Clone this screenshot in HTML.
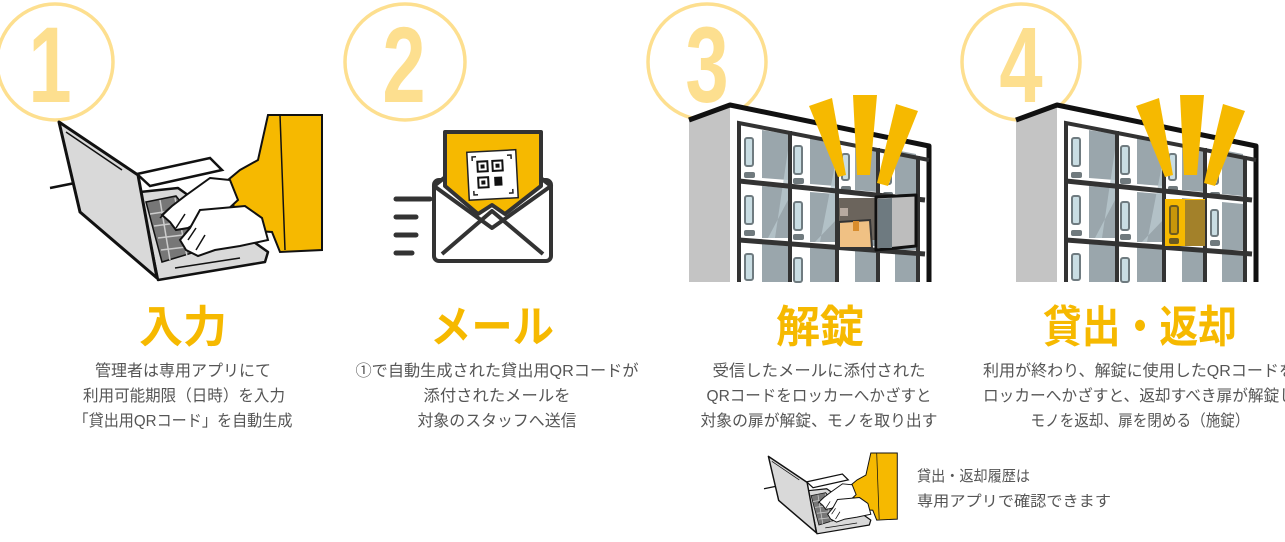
<!DOCTYPE html>
<html><head><meta charset="utf-8"><style>
html,body{margin:0;padding:0;background:#fff;}
svg{display:block;}
text{font-family:"Liberation Sans","Noto Sans CJK JP",sans-serif;}
.d{font-size:16px;fill:#555;}
.t{font-size:44px;font-weight:bold;fill:#f6b900;}
.n{font-size:108px;font-weight:bold;fill:#fddf8f;}
</style></head><body>
<svg width="1285" height="542" viewBox="0 0 1285 542" xmlns="http://www.w3.org/2000/svg">
<defs>
<g id="laptop">
  <line x1="50" y1="188" x2="75" y2="183" stroke="#111" stroke-width="2.5"/>
  <polygon points="137,174 210,158 222,170 150,186" fill="#fff" stroke="#111" stroke-width="2.5"/>
  <polygon points="140,192 178,188 268,252 265,262 158,280" fill="#d9d9d9" stroke="#111" stroke-width="2.5" stroke-linejoin="round"/>
  <polygon points="146,202 176,196 215,246 162,262" fill="#777" stroke="#111" stroke-width="1.5"/>
  <path d="M150,214 L190,208 M154,226 L200,220 M158,238 L208,232 M161,250 L212,244 M160,200 L170,260 M175,198 L187,256 M190,204 L200,252" stroke="#ccc" stroke-width="1.5"/>
  <polygon points="59,122 138,175 157,278 80,212" fill="#d9d9d9" stroke="#111" stroke-width="3" stroke-linejoin="round"/>
  <line x1="66" y1="132" x2="122" y2="170" stroke="#111" stroke-width="1.5"/>
  <line x1="175" y1="268" x2="240" y2="258" stroke="#111" stroke-width="1.5"/>
  <polygon points="268,115 322,115 322,250 280,252 272,232 240,230 232,200 222,185 240,170 258,160" fill="#f6b900" stroke="#111" stroke-width="2"/>
  <line x1="280" y1="115" x2="285" y2="250" stroke="#111" stroke-width="1.5"/>
  <path d="M210,178 L230,180 L238,200 L225,212 L205,218 L188,228 L176,230 L170,222 L162,215 L172,206 L185,196 Z" fill="#fff" stroke="#111" stroke-width="2"/>
  <path d="M200,210 L245,206 L262,218 L268,240 L240,246 L215,250 L198,256 L186,250 L180,240 L190,228 Z" fill="#fff" stroke="#111" stroke-width="2"/>
  <path d="M172,206 L160,218 M185,214 L176,228 M196,228 L188,240 M205,235 L196,250" stroke="#111" stroke-width="1.5"/>
</g>
<g id="locker">
  <polygon points="689,118 730,104 730,282 689,282" fill="#c4c4c4"/>
  <polygon points="730,104 929,146 929,282 730,282" fill="#fff"/>
  <polyline points="689,120 730,105 929,146 929,282" fill="none" stroke="#111" stroke-width="5" stroke-linejoin="round"/>
  <g fill="#9aa6ac">
    <polygon points="762,130 788,134 788,180 762,178"/>
    <polygon points="810,136 836,140 836,186 810,184"/>
    <polygon points="855,144 877,148 877,192 855,190"/>
    <polygon points="895,150 916,154 916,196 895,194"/>
    <polygon points="762,186 788,188 788,238 762,238"/>
    <polygon points="810,192 836,194 836,242 810,242"/>
    <polygon points="855,198 877,200 877,246 855,246"/>
    <polygon points="895,202 916,204 916,250 895,250"/>
    <polygon points="762,244 788,246 788,282 762,282"/>
    <polygon points="810,247 836,249 836,282 810,282"/>
    <polygon points="855,250 877,251 877,282 855,282"/>
    <polygon points="895,252 916,253 916,282 895,282"/>
  </g>
  <g fill="#b9c8ce" opacity="0.8">
    <polygon points="788,150 788,200 768,238 775,238"/>
    <polygon points="836,160 836,220 815,242 820,242"/>
  </g>
  <g fill="#c9dde3" stroke="#6f7b80" stroke-width="2">
    <rect x="745" y="138" width="8" height="28" rx="2"/>
    <rect x="794" y="146" width="8" height="28" rx="2"/>
    <rect x="842" y="154" width="7" height="26" rx="2"/>
    <rect x="884" y="160" width="7" height="24" rx="2"/>
    <rect x="745" y="196" width="8" height="28" rx="2"/>
    <rect x="794" y="202" width="8" height="28" rx="2"/>
    <rect x="884" y="210" width="7" height="26" rx="2"/>
    <rect x="745" y="254" width="8" height="26" rx="2"/>
    <rect x="794" y="258" width="8" height="24" rx="2"/>
  </g>
  <g fill="#707a7e">
    <rect x="744" y="172" width="11" height="6" rx="2"/>
    <rect x="793" y="178" width="11" height="6" rx="2"/>
    <rect x="841" y="186" width="10" height="6" rx="2"/>
    <rect x="883" y="192" width="10" height="6" rx="2"/>
    <rect x="744" y="230" width="11" height="6" rx="2"/>
    <rect x="793" y="234" width="11" height="6" rx="2"/>
    <rect x="883" y="240" width="10" height="6" rx="2"/>
  </g>
  <polyline points="929,160 739,123 739,282" fill="none" stroke="#333" stroke-width="4"/>
  <line x1="739" y1="181" x2="925" y2="200" stroke="#333" stroke-width="5"/>
  <line x1="739" y1="240" x2="925" y2="254" stroke="#333" stroke-width="5"/>
  <g stroke="#333" stroke-width="4">
    <line x1="790" y1="131" x2="790" y2="282"/>
    <line x1="837" y1="140" x2="837" y2="282"/>
    <line x1="878" y1="148" x2="878" y2="282"/>
    <line x1="918" y1="156" x2="918" y2="282"/>
  </g>
</g>
<g id="rays">
  <polygon points="809,106 832,98 846,175 838,177" fill="#f6b900"/>
  <polygon points="853,95 877,95 870,175 857,175" fill="#f6b900"/>
  <polygon points="896,104 918,111 888,186 877,183" fill="#f6b900"/>
</g>
</defs>

<!-- circles and numbers -->
<g fill="none" stroke="#fddf8f" stroke-width="3.5">
  <ellipse cx="55" cy="62" rx="58" ry="58"/>
  <ellipse cx="405" cy="62" rx="60" ry="58"/>
  <ellipse cx="707" cy="62" rx="59" ry="58"/>
  <ellipse cx="1021" cy="62" rx="59" ry="58"/>
</g>
<g class="n" text-anchor="middle">
  <text transform="translate(50,102) scale(0.72,1)" class="n">1</text>
  <text transform="translate(404,102) scale(0.72,1)" class="n">2</text>
  <text transform="translate(707,102) scale(0.72,1)" class="n">3</text>
  <text transform="translate(1021,102) scale(0.72,1)" class="n">4</text>
</g>

<!-- laptop 1 -->
<use href="#laptop"/>

<!-- envelope -->
<g stroke="#333" stroke-linecap="round" stroke-width="5">
  <line x1="396" y1="199" x2="430" y2="199"/>
  <line x1="396" y1="217" x2="416" y2="217"/>
  <line x1="396" y1="235" x2="416" y2="235"/>
  <line x1="396" y1="253" x2="412" y2="253"/>
</g>
<rect x="434" y="180" width="117" height="81" rx="5" fill="#fff" stroke="#333" stroke-width="4"/>
<polygon points="434,186 492,140 551,186 492,228" fill="#fff" stroke="#333" stroke-width="4" stroke-linejoin="round"/>
<polygon points="445,132 541,132 541,186 505,214 492,205 478,214 445,186" fill="#f6b900" stroke="#333" stroke-width="4" stroke-linejoin="round"/>
<polyline points="442,254 492,211 543,254" fill="none" stroke="#333" stroke-width="4" stroke-linejoin="round"/>
<g transform="rotate(-3 492 175)">
  <rect x="468" y="151" width="49" height="48" fill="#fff" stroke="#222" stroke-width="1.5"/>
  <path d="M473,160 v-4 h4 M508,156 h4 v4 M473,190 v4 h4 M512,190 v4 h-4" fill="none" stroke="#222" stroke-width="1.5"/>
  <rect x="478" y="161" width="10" height="10" fill="none" stroke="#111" stroke-width="2"/>
  <rect x="493" y="161" width="10" height="10" fill="none" stroke="#111" stroke-width="2"/>
  <rect x="478" y="177" width="10" height="10" fill="none" stroke="#111" stroke-width="2"/>
  <rect x="481" y="164" width="4" height="4" fill="#111"/>
  <rect x="496" y="164" width="4" height="4" fill="#111"/>
  <rect x="481" y="180" width="4" height="4" fill="#111"/>
  <rect x="494" y="177" width="8" height="9" fill="#111"/>
</g>

<!-- locker 3 -->
<use href="#locker"/>
<rect x="839" y="198" width="37" height="42" fill="#6b645c"/>
<rect x="840" y="208" width="8" height="8" fill="#b7aaa0"/>
<polygon points="839,222 870,220 872,248 839,248" fill="#f0c184" stroke="#333" stroke-width="2"/>
<rect x="853" y="221" width="6" height="10" fill="#d88c2c"/>
<polygon points="876,197 916,195 916,246 876,250" fill="#bdbdbd" stroke="#111" stroke-width="3" stroke-linejoin="round"/>
<polygon points="878,199 892,198 892,248 878,248" fill="#6e7a80"/>
<use href="#rays"/>

<!-- locker 4 -->
<use href="#locker" transform="translate(327,0)"/>
<rect x="1165" y="199" width="40" height="47" fill="#f6b900"/>
<rect x="1185" y="200" width="20" height="46" fill="#a3812a"/>
<rect x="1170" y="206" width="8" height="28" rx="2" fill="#c8960a" stroke="#6b5a20" stroke-width="2"/>
<rect x="1169" y="238" width="10" height="6" rx="2" fill="#6b5a20"/>
<use href="#rays" transform="translate(327,0)"/>

<!-- titles -->
<g class="t" text-anchor="middle">
  <text x="183" y="342" textLength="88" lengthAdjust="spacingAndGlyphs" class="t">入力</text>
  <text x="492" y="342" textLength="124" lengthAdjust="spacingAndGlyphs" class="t">メール</text>
  <text x="820" y="342" textLength="88" lengthAdjust="spacingAndGlyphs" class="t">解錠</text>
  <text x="1140" y="342" textLength="194" lengthAdjust="spacingAndGlyphs" class="t">貸出・返却</text>
</g>

<!-- descriptions -->
<g class="d" text-anchor="middle">
  <text x="183" y="376" textLength="176" lengthAdjust="spacingAndGlyphs" class="d">管理者は専用アプリにて</text>
  <text x="184" y="401" textLength="202" lengthAdjust="spacingAndGlyphs" class="d">利用可能期限（日時）を入力</text>
  <text x="183" y="426" textLength="219" lengthAdjust="spacingAndGlyphs" class="d">「貸出用QRコード」を自動生成</text>

  <text x="497" y="376" textLength="283" lengthAdjust="spacingAndGlyphs" class="d">①で自動生成された貸出用QRコードが</text>
  <text x="497" y="401" textLength="147" lengthAdjust="spacingAndGlyphs" class="d">添付されたメールを</text>
  <text x="497" y="426" textLength="159" lengthAdjust="spacingAndGlyphs" class="d">対象のスタッフへ送信</text>

  <text x="819" y="376" textLength="213" lengthAdjust="spacingAndGlyphs" class="d">受信したメールに添付された</text>
  <text x="819" y="401" textLength="225" lengthAdjust="spacingAndGlyphs" class="d">QRコードをロッカーへかざすと</text>
  <text x="819" y="426" textLength="237" lengthAdjust="spacingAndGlyphs" class="d">対象の扉が解錠、モノを取り出す</text>

  <text x="1140" y="426" textLength="219" lengthAdjust="spacingAndGlyphs" class="d">モノを返却、扉を閉める（施錠）</text>
</g>
<text x="983" y="376" textLength="312" lengthAdjust="spacingAndGlyphs" class="d">利用が終わり、解錠に使用したQRコードを</text>
<text x="983" y="401" textLength="312" lengthAdjust="spacingAndGlyphs" class="d">ロッカーへかざすと、返却すべき扉が解錠し</text>

<!-- bottom laptop -->
<use href="#laptop" transform="translate(739.5,396.6) scale(0.49)"/>
<text x="917" y="481" textLength="113" lengthAdjust="spacingAndGlyphs" class="d" style="font-size:15px">貸出・返却履歴は</text>
<text x="917" y="506" textLength="194" lengthAdjust="spacingAndGlyphs" class="d" style="font-size:15px">専用アプリで確認できます</text>
</svg>
</body></html>
